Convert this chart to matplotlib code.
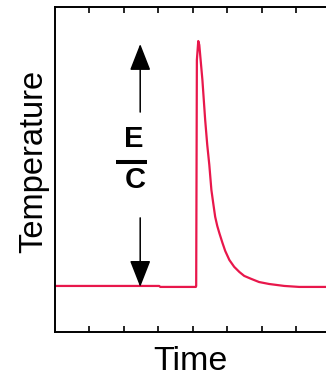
import matplotlib
matplotlib.use('Agg')
import matplotlib.pyplot as plt
from matplotlib import font_manager

# time in tick units, temperature normalised to the pulse height
time = [0.00, 3.03, 3.06, 4.09, 4.10, 4.12, 4.16, 4.19, 4.28, 4.36, 4.42,
        4.48, 4.54, 4.60, 4.65, 4.71, 4.77, 4.86, 4.94, 5.06, 5.20, 5.35,
        5.49, 5.69, 5.92, 6.21, 6.65, 7.08, 7.83, 8.53]
temp = [0.004, 0.004, 0.0, 0.0, 0.004, 0.927, 1.004, 0.988, 0.845, 0.682,
        0.580, 0.498, 0.396, 0.335, 0.286, 0.249, 0.220, 0.180, 0.147,
        0.110, 0.082, 0.061, 0.045, 0.033, 0.020, 0.012, 0.004, 0.0, 0.0, 0.0]
xticks = [1, 2, 3, 4, 5, 6, 7, 8]

names = {f.name for f in font_manager.fontManager.ttflist}
narrow = 'Liberation Sans Narrow' if 'Liberation Sans Narrow' in names else 'Liberation Sans'
plt.rcParams['font.family'] = ['Liberation Sans', 'DejaVu Sans']

fig = plt.figure(figsize=(3.26, 3.77), dpi=100)
ax = fig.add_axes([0.1672, 0.1194, 0.901, 0.862])
ax.plot(time, temp, color='#e8174b', lw=1.6)
ax.set_xlim(0, 8.5)
ax.set_ylim(-0.184, 1.143)
ax.set_xticks(xticks)
ax.set_yticks([])
ax.tick_params(axis='x', direction='in', length=4, width=1.2, top=True,
               labelbottom=False)
for s in ax.spines.values():
    s.set_linewidth(1.4)

# E/C double arrow
x0 = 2.48
hs = '-|>,head_length=1.66,head_width=0.65'
ax.annotate('', xy=(x0, 0.992), xytext=(x0, 0.714),
            arrowprops=dict(arrowstyle=hs, mutation_scale=10, lw=1.1,
                            color='black', shrinkA=0, shrinkB=0))
ax.annotate('', xy=(x0, 0.0), xytext=(x0, 0.282),
            arrowprops=dict(arrowstyle=hs, mutation_scale=10, lw=1.1,
                            color='black', shrinkA=0, shrinkB=0))
ax.text(2.29, 0.604, 'E', ha='center', va='center', fontsize=21, fontweight='bold')
ax.text(2.34, 0.437, 'C', ha='center', va='center', fontsize=21, fontweight='bold')
ax.plot([1.79, 2.69], [0.51, 0.51], color='black', lw=2.9, solid_capstyle='butt')

fig.text(190/326, 7.5/377, 'Time', ha='center', va='baseline', fontsize=24.5,
         family=[narrow, 'DejaVu Sans'])
fig.text(42/326, 1 - 161.5/377, 'Temperature', ha='center', va='baseline',
         rotation=90, rotation_mode='anchor', fontsize=23.5)

fig.savefig('out.png', dpi=100)
